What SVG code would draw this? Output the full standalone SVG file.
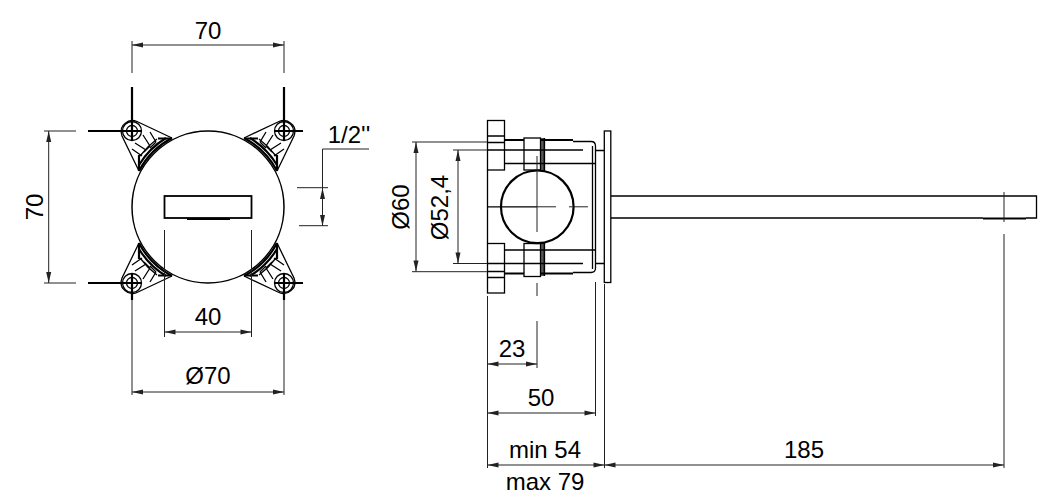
<svg xmlns="http://www.w3.org/2000/svg" width="1056" height="504" viewBox="0 0 1056 504">
<style>
.l{fill:none;stroke:#000;stroke-width:1.3}
.t{fill:none;stroke:#000;stroke-width:2.2}
.d{fill:none;stroke:#222;stroke-width:1}
.h{fill:#222;stroke:none}
text{font-family:"Liberation Sans",Arial,sans-serif;font-size:24px;fill:#000;text-anchor:middle}
</style>
<defs>
<g id="lug">
<path class="l" d="M125 123.500A11 11 0 0 1 137 121.500L172 138M125 123.500C120 127 121 133 122 136L139 171"/>
<circle class="l" cx="132" cy="131" r="5.500"/>
<circle class="l" cx="132" cy="131" r="9.500"/>
<path class="l" d="M143 135L150 146M150 132L156 142M135 143L146 150M132 149L142 156M150 146L144 152M156 142L150 148"/>
<path class="t" d="M139 171A78 78 0 0 1 172 138"/>
<path class="t" d="M139 165A81 81 0 0 1 166 138"/>
<path class="l" d="M140 156A85 85 0 0 1 157 139"/>
<path class="t" d="M139 155V171M158 138.500H172"/>
</g>
<g id="ah"><path class="h" d="M0 0L11 -2.500V2.500Z"/></g>
</defs>
<g id="front-view">
<use href="#lug"/>
<use href="#lug" transform="matrix(-1 0 0 1 416 0)"/>
<use href="#lug" transform="matrix(1 0 0 -1 0 414)"/>
<use href="#lug" transform="matrix(-1 0 0 -1 416 414)"/>
<path class="t" d="M88 131H142M132 87V141M274 131H303M284 87V141M88 283H142M132 273V300M274 283H303M284 273V300"/>
<circle cx="208" cy="207" r="76" fill="#fff" stroke="#000" stroke-width="1.500"/>
<rect x="164.500" y="196" width="87" height="22" fill="none" stroke="#000" stroke-width="1.800"/>
<path class="t" d="M187 219H230"/>
</g>
<g id="side-view">
<rect class="l" x="487.500" y="120.500" width="17" height="49.500"/>
<rect class="l" x="487.500" y="243.500" width="17" height="49.500"/>
<path class="l" d="M487.500 136H504.500M487.500 277.500H504.500M487.500 170V243.500"/>
<path class="t" d="M505 140H524M541 140H573M505 273.500H524M541 273.500H573"/>
<path class="l" d="M573 141.500H591Q595.500 141.500 595.500 146V268Q595.500 272.500 591 272.500H573"/>
<path class="l" d="M592.500 146V269M505 163.500H595.500M505 250H595.500M487 142.500H505M487 150H583M487 263.500H583M487 271.500H505"/>
<rect class="l" x="524" y="138" width="16.500" height="32"/>
<rect class="l" x="524" y="243.500" width="16.500" height="33"/>
<path class="l" d="M541 138V171M543 138V172M544.500 138V173M541 243V276M543 242V276M544.500 241V276"/>
<circle cx="537.300" cy="206.800" r="36.300" fill="#fff" stroke="#000" stroke-width="2.200"/>
<path class="l" d="M487 206.800H537"/>
<path class="d" d="M537 206.800H556M569 206.800H588M537 156V232"/>
<rect class="l" x="604.300" y="131" width="6.500" height="151.500"/>
<path class="l" d="M596 150.500H604M596 263.500H604"/>
<path class="l" d="M611 196H1036.500V218H1026M611 218H983"/>
<path class="t" d="M983 218.500H1026"/>
</g>
<g id="connectors">
<path class="d" d="M132 41V73M284 41V73M132 300V395M284 300V395M164.500 230V337M251.500 230V337M44 131H76M44 283H76M297 187.700H328M299 225.700H328M322.500 226V149H369M412 142H487M412 271.700H487M453 150H487M453 263.500H487M537 283V296M537 321V368M487.500 296V468M595.500 282V416M604.500 284V468M1004 192V222M1004 234V468"/>
<path class="d" d="M132 45H284M48.700 131V283M132 392H284M164.500 332H251.500M416 142V271.500M458 150V263.500M487.500 364H537M487.500 413H595.500M487.500 465H604.500M604.500 465H1004"/>
<use href="#ah" transform="translate(132 45)"/><use href="#ah" transform="translate(284 45) rotate(180)"/>
<use href="#ah" transform="translate(48.700 131) rotate(90)"/><use href="#ah" transform="translate(48.700 283) rotate(-90)"/>
<use href="#ah" transform="translate(132 392)"/><use href="#ah" transform="translate(284 392) rotate(180)"/>
<use href="#ah" transform="translate(164.500 332)"/><use href="#ah" transform="translate(251.500 332) rotate(180)"/>
<use href="#ah" transform="translate(322.500 188) rotate(90)"/><use href="#ah" transform="translate(322.500 226) rotate(-90)"/>
<use href="#ah" transform="translate(416 142) rotate(90)"/><use href="#ah" transform="translate(416 271.500) rotate(-90)"/>
<use href="#ah" transform="translate(458 150) rotate(90)"/><use href="#ah" transform="translate(458 263.500) rotate(-90)"/>
<use href="#ah" transform="translate(487.500 364)"/><use href="#ah" transform="translate(537 364) rotate(180)"/>
<use href="#ah" transform="translate(487.500 413)"/><use href="#ah" transform="translate(595.500 413) rotate(180)"/>
<use href="#ah" transform="translate(487.500 465)"/><use href="#ah" transform="translate(604.500 465) rotate(180)"/>
<use href="#ah" transform="translate(604.500 465)"/><use href="#ah" transform="translate(1004 465) rotate(180)"/>
</g>
<g id="labels">
<text x="208" y="39">70</text>
<text x="349" y="143">1/2''</text>
<text transform="translate(43 207) rotate(-90)">70</text>
<text x="208" y="325">40</text>
<text x="208" y="384">Ø70</text>
<text transform="translate(409 207) rotate(-90)">Ø60</text>
<text transform="translate(448 207.500) rotate(-90)">Ø52,4</text>
<text x="512" y="357">23</text>
<text x="541" y="406">50</text>
<text x="545" y="458">min 54</text>
<text x="545" y="490">max 79</text>
<text x="804" y="458">185</text>
</g>
</svg>
